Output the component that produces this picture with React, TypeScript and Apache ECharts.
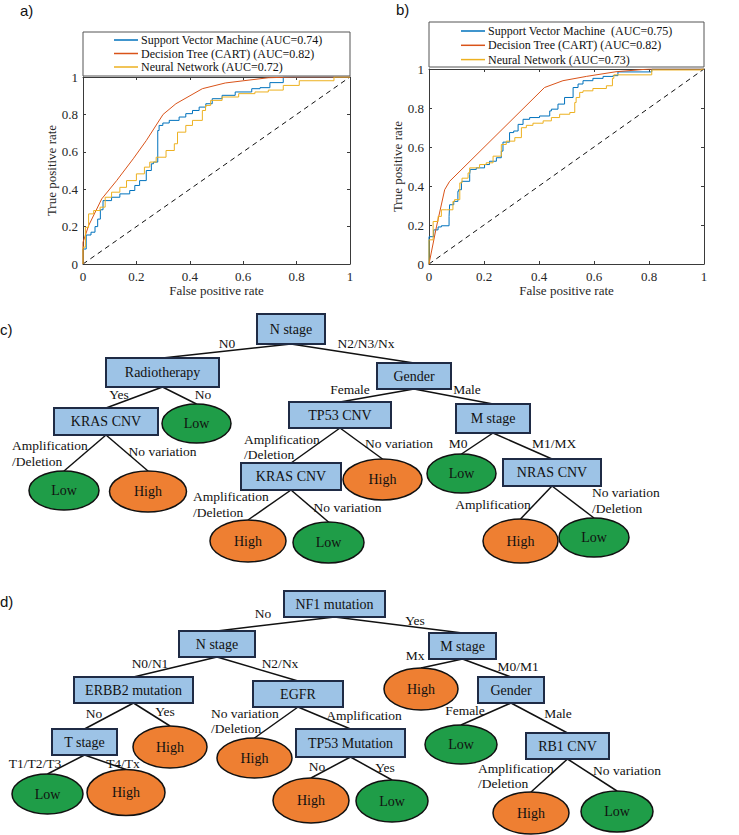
import React, { useEffect, useRef } from "react";
import * as echarts from "echarts";

const SERIF = "Liberation Serif, Times New Roman, serif";
const SANS = "Liberation Sans, Arial, sans-serif";
const C_SVM = "#0072BD";
const C_CART = "#D95319";
const C_NN = "#EDB120";
const AX = "#3a3a3a";
const BOX_FILL = "#9DC3E6";
const BOX_STROKE = "#1F2B45";
const GREEN = "#1f9d48";
const ORANGE = "#ee7f32";

// ---------- ROC data (False positive rate, True positive rate) ----------
const namesA = [
  "Support Vector Machine (AUC=0.74)",
  "Decision Tree (CART) (AUC=0.82)",
  "Neural Network (AUC=0.72)",
];
const namesB = [
  "Support Vector Machine  (AUC=0.75)",
  "Decision Tree (CART) (AUC=0.82)\u200b",
  "Neural Network (AUC=0.73)",
];

const svmA = [[0,0],[0.012,0.08],[0.03,0.155],[0.045,0.17],[0.055,0.2],[0.065,0.24],[0.075,0.29],[0.107,0.339],[0.138,0.357],[0.175,0.375],[0.194,0.393],[0.212,0.42],[0.237,0.446],[0.256,0.5],[0.264,0.536],[0.28,0.545],[0.285,0.714],[0.299,0.741],[0.323,0.754],[0.36,0.768],[0.385,0.786],[0.41,0.804],[0.435,0.821],[0.46,0.839],[0.484,0.857],[0.521,0.884],[0.57,0.902],[0.632,0.92],[0.663,0.9375],[0.7,0.943],[0.75,0.97],[0.8,1],[1,1]];
const cartA = [[0,0],[0,0.116],[0.021,0.205],[0.07,0.348],[0.126,0.446],[0.188,0.5625],[0.237,0.66],[0.3,0.8],[0.348,0.857],[0.447,0.9375],[0.533,0.968],[0.694,0.996],[0.79,1],[1,1]];
const nnA = [[0,0],[0.009,0.09],[0.021,0.196],[0.04,0.268],[0.064,0.286],[0.083,0.304],[0.107,0.357],[0.138,0.384],[0.163,0.41],[0.2,0.446],[0.23,0.482],[0.25,0.518],[0.274,0.545],[0.311,0.571],[0.342,0.607],[0.354,0.643],[0.385,0.705],[0.41,0.741],[0.447,0.768],[0.459,0.821],[0.478,0.848],[0.521,0.875],[0.583,0.893],[0.644,0.911],[0.694,0.92],[0.75,0.93],[0.81,0.955],[0.94,0.98],[1,1]];

const svmB = [[0,0],[0,0.124],[0.017,0.14],[0.033,0.175],[0.045,0.19],[0.073,0.196],[0.075,0.244],[0.09,0.304],[0.105,0.321],[0.108,0.373],[0.118,0.381],[0.12,0.416],[0.148,0.424],[0.15,0.459],[0.172,0.485],[0.202,0.493],[0.22,0.51],[0.245,0.527],[0.263,0.545],[0.269,0.579],[0.293,0.625],[0.308,0.674],[0.324,0.682],[0.342,0.716],[0.366,0.742],[0.402,0.751],[0.439,0.759],[0.445,0.785],[0.469,0.794],[0.493,0.82],[0.524,0.854],[0.542,0.905],[0.56,0.923],[0.596,0.94],[0.633,0.952],[0.669,0.962],[0.687,0.966],[0.81,0.985],[0.93,1],[1,1]];
const cartB = [[0,0],[0.027,0.19],[0.057,0.381],[0.075,0.424],[0.42,0.905],[0.487,0.94],[0.572,0.962],[0.68,0.986],[0.8,1],[1,1]];
const nnB = [[0,0],[0,0.072],[0.015,0.124],[0.033,0.218],[0.045,0.244],[0.063,0.278],[0.087,0.278],[0.093,0.321],[0.112,0.33],[0.12,0.416],[0.142,0.44],[0.148,0.467],[0.184,0.493],[0.208,0.51],[0.233,0.519],[0.263,0.553],[0.281,0.613],[0.312,0.63],[0.336,0.648],[0.354,0.699],[0.378,0.711],[0.415,0.722],[0.445,0.734],[0.475,0.751],[0.512,0.768],[0.53,0.777],[0.535,0.828],[0.548,0.854],[0.56,0.88],[0.596,0.888],[0.645,0.9],[0.667,0.914],[0.672,0.952],[0.81,0.97],[0.99,0.995],[1,1]];
const chance = [[0,0],[1,1]];

// ---------- Decision tree c ----------
const treeCLabels = ["N stage","Radiotherapy","Gender","KRAS CNV","Low","Low","High","TP53 CNV","M stage","KRAS CNV","High","High","Low","Low","NRAS CNV","High","Low"];
const treeCParents = [-1,0,0,1,1,3,3,2,2,7,7,9,9,8,8,14,14];
const treeCEdges = ["","N0","N2/N3/Nx","Yes","No","Amplification\n/Deletion","No variation","Female","Male","Amplification\n/Deletion","No variation","Amplification\n/Deletion","No variation","M0","M1/MX","Amplification","No variation\n/Deletion"];

// ---------- Decision tree d ----------
const treeDLabels = ["NF1 mutation","N stage","M stage","ERBB2 mutation","EGFR","T stage","High","Low","High","High","TP53 Mutation","High","Low","High","Gender","Low","RB1 CNV","High","Low"];
const treeDParents = [-1,0,0,1,1,3,3,5,5,4,4,10,10,2,2,14,14,16,16];
const treeDEdges = ["","No","Yes","N0/N1","N2/Nx","No","Yes","T1/T2/T3","T4/Tx","No variation\n/Deletion","Amplification","No","Yes","Mx","M0/M1","Female","Male","Amplification\n/Deletion","No variation"];

// layout (centre x, centre y, width, height) kept apart from the data
const layoutC = [[291,329,68,30],[162.5,372.5,113,29],[414,376,74,26],[106,421.5,104,27],[196.5,423.5,69,39],[64,490.5,70,39],[148,491.5,77,41],[340,415,102,26],[493,418.5,74,29],[291,476.5,100,27],[382.5,479.5,79,41],[248,541,76,42],[328.5,542.5,71,41],[461.5,473.5,69,39],[552,472.5,98,27],[520.5,541,75,44],[594,537.5,70,39]];
const edgePosC = [null,[227,343,"center"],[366,343,"center"],[119,394,"center"],[203,394,"center"],[12,453.5,"left"],[162.5,451,"center"],[350,389,"center"],[467,389,"center"],[244,447,"left"],[399,443,"center"],[193,504.5,"left"],[347.5,507,"center"],[458,443,"center"],[554,443,"center"],[493,504,"center"],[592,500.5,"left"]];
const layoutD = [[334.5,604,101,26],[217,644,76,26],[462.5,646,67,26],[133.5,690,119,26],[298,694,90,26],[84.5,742,65,26],[170,747,74,42],[47.5,794,71,40],[126,792.5,78,46],[254.5,758,75,40],[350.5,743,109,28],[311,800.5,76,45],[392,801,72,42],[421,689,74,42],[511,690,66,26],[461,744.5,72,39],[567.5,746,83,26],[531,813,76,42],[617,811.5,72,41]];
const edgePosD = [null,[263,613,"center"],[415,620,"center"],[150,663,"center"],[280,663,"center"],[94,713,"center"],[165,711,"center"],[35,763,"center"],[123,763,"center"],[211,721,"left"],[364,715,"center"],[317,766,"center"],[385,767,"center"],[415,655,"center"],[518,666,"center"],[465,710,"center"],[558,713,"center"],[478,776,"left"],[627,770,"center"]];

function buildTree(labels: string[], parents: number[], edges: string[], layout: number[][], edgePos: any[]) {
  const els: any[] = [];
  parents.forEach((p, i) => {
    if (p < 0) return;
    const [px, py, , ph] = layout[p];
    const [cx, cy, , h] = layout[i];
    els.push({ type: "line", z: 1, shape: { x1: px, y1: py + ph / 2, x2: cx, y2: cy - h / 2 }, style: { stroke: "#111", lineWidth: 1.5 } });
  });
  labels.forEach((t, i) => {
    const [cx, cy, w, h] = layout[i];
    const leaf = t === "High" || t === "Low";
    if (leaf) {
      els.push({ type: "ellipse", z: 2, shape: { cx, cy, rx: w / 2, ry: h / 2 }, style: { fill: t === "High" ? ORANGE : GREEN, stroke: "#111", lineWidth: 1.5 } });
    } else {
      els.push({ type: "rect", z: 2, shape: { x: cx - w / 2, y: cy - h / 2, width: w, height: h }, style: { fill: BOX_FILL, stroke: BOX_STROKE, lineWidth: 2 } });
    }
    els.push({ type: "text", z: 3, x: cx, y: cy, style: { text: t, fontSize: 14, fontFamily: SERIF, fill: "#111", align: "center", verticalAlign: "middle" } });
  });
  edges.forEach((e, i) => {
    if (!e) return;
    const [x, y, align] = edgePos[i];
    els.push({ type: "text", z: 3, x, y, style: { text: e, fontSize: 13.5, lineHeight: 15.5, fontFamily: SERIF, fill: "#111", align, verticalAlign: "middle" } });
  });
  return els;
}

function axisX(grid: number, pos: string, labels: boolean) {
  return {
    type: "value", gridIndex: grid, position: pos, min: 0, max: 1, interval: 0.2,
    axisLine: { show: true, onZero: false, lineStyle: { color: AX, width: 1 } },
    axisTick: { show: true, inside: true, length: 3, lineStyle: { color: AX } },
    axisLabel: { show: labels, margin: 6, fontSize: 13, color: "#262626", fontFamily: SERIF },
    splitLine: { show: false },
    name: labels ? "False positive rate" : "", nameLocation: "middle", nameGap: 20,
    nameTextStyle: { fontSize: 13, color: "#262626", fontFamily: SERIF },
  };
}
function axisY(grid: number, pos: string, labels: boolean) {
  return {
    type: "value", gridIndex: grid, position: pos, min: 0, max: 1, interval: 0.2,
    axisLine: { show: true, onZero: false, lineStyle: { color: AX, width: 1 } },
    axisTick: { show: true, inside: true, length: 3, lineStyle: { color: AX } },
    axisLabel: { show: labels, margin: 5, fontSize: 13, color: "#262626", fontFamily: SERIF },
    splitLine: { show: false },
    name: labels ? "True positive rate" : "", nameLocation: "middle", nameGap: 21,
    nameTextStyle: { fontSize: 13, color: "#262626", fontFamily: SERIF },
  };
}
function roc(name: string, data: number[][], color: string, ax: number, step: any) {
  return {
    name, type: "line", xAxisIndex: ax, yAxisIndex: ax, data, step, symbol: "none",
    lineStyle: { color, width: 1 }, itemStyle: { color }, z: 3,
  };
}
function legend(names: string[], left: number, top: number, gap: number) {
  return {
    data: names, orient: "vertical", left, top, padding: 0, itemGap: gap,
    icon: "rect", itemWidth: 24, itemHeight: 1.5,
    selectedMode: false,
    textStyle: { fontFamily: SERIF, fontSize: 12, color: "#111", lineHeight: 12, padding: [0, 0, 0, -2] },
  };
}

export default function App() {
  const ref = useRef<HTMLDivElement>(null);
  useEffect(() => {
    if (!ref.current) return;
    const chart = echarts.init(ref.current, undefined, { renderer: "svg" });
    const graphics: any[] = [
      { type: "rect", z: 0, shape: { x: 83, y: 32, width: 267, height: 44 }, style: { fill: "#fff", stroke: "#555", lineWidth: 1 } },
      { type: "rect", z: 0, shape: { x: 429, y: 22, width: 275, height: 45 }, style: { fill: "#fff", stroke: "#555", lineWidth: 1 } },
      { type: "text", x: 20, y: 3, style: { text: "a)", fontSize: 15, fontFamily: SANS, fill: "#111" } },
      { type: "text", x: 396, y: 2, style: { text: "b)", fontSize: 15, fontFamily: SANS, fill: "#111" } },
      { type: "text", x: 0, y: 322, style: { text: "c)", fontSize: 15, fontFamily: SANS, fill: "#111" } },
      { type: "text", x: 0, y: 594, style: { text: "d)", fontSize: 15, fontFamily: SANS, fill: "#111" } },
      ...buildTree(treeCLabels, treeCParents, treeCEdges, layoutC, edgePosC),
      ...buildTree(treeDLabels, treeDParents, treeDEdges, layoutD, edgePosD),
    ];
    chart.setOption({
      animation: false,
      textStyle: { fontFamily: SERIF },
      grid: [
        { left: 83, top: 77, width: 267, height: 187 },
        { left: 429, top: 69, width: 275, height: 195 },
      ],
      xAxis: [axisX(0, "bottom", true), axisX(0, "top", false), axisX(1, "bottom", true), axisX(1, "top", false)],
      yAxis: [axisY(0, "left", true), axisY(0, "right", false), axisY(1, "left", true), axisY(1, "right", false)],
      legend: [legend(namesA, 114, 34, 1.5), legend(namesB, 461, 25, 2.3)],
      series: [
        roc(namesA[0], svmA, C_SVM, 0, "start"),
        roc(namesA[1], cartA, C_CART, 0, false),
        roc(namesA[2], nnA, C_NN, 0, "start"),
        { type: "line", xAxisIndex: 0, yAxisIndex: 0, data: chance, symbol: "none", lineStyle: { color: "#111", width: 1, type: [5, 4] }, z: 2 },
        roc(namesB[0], svmB, C_SVM, 2, "start"),
        roc(namesB[1], cartB, C_CART, 2, false),
        roc(namesB[2], nnB, C_NN, 2, "start"),
        { type: "line", xAxisIndex: 2, yAxisIndex: 2, data: chance, symbol: "none", lineStyle: { color: "#111", width: 1, type: [5, 4] }, z: 2 },
      ],
      graphic: graphics,
    });
    return () => chart.dispose();
  }, []);
  return <div ref={ref} style={{ position: "fixed", left: 0, top: 0, width: 739, height: 835, background: "#fff" }} />;
}
